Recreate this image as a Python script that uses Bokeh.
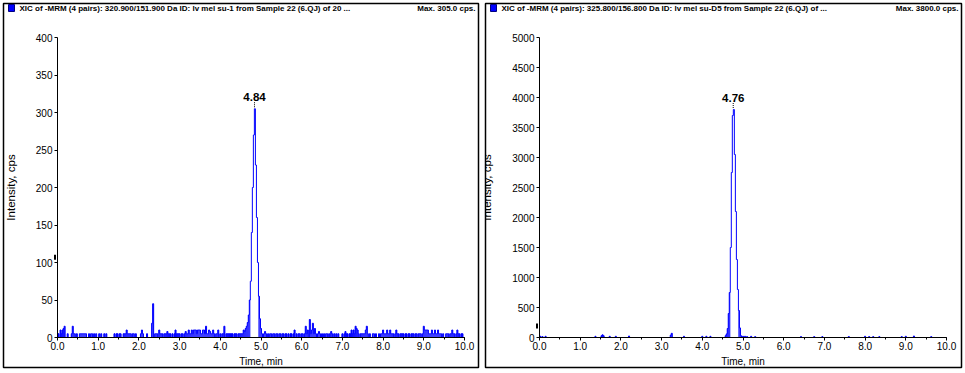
import numpy as np
from bokeh.plotting import figure
from bokeh.layouts import row
from bokeh.models import (Range1d, SingleIntervalTicker, PrintfTickFormatter,
                          Label, ColumnDataSource, LinearAxis)
from bokeh.core.properties import value
from bokeh.embed import file_html
from bokeh.resources import INLINE

# ---------------- data ----------------
step_min = 0.025  # sampling interval (min)

left_intensity = (
    [0,5,0,10,5,10,12,15,0,0, 5,0,0,0,5,15,5,5,0,5, 0,0,5,5,5,5,5,5,5,0, 0,5,0,5,5,0,5,0,5,0]
  + [0,5,0,5,0,0,5,0,5,0, 0,0,0,0,0,0,5,0,5,5, 0,5,5,0,0,5,5,5,10,5, 5,5,5,0,5,5,0,5,0,0]
  + [0,0,5,10,5,0,0,0,5,0, 0,0,0,19,45,0,5,5,5,0, 10,5,5,5,0,5,5,5,8,5, 5,5,0,5,0,5,10,5,5,5]
  + [5,0,5,5,0,5,8,5,5,10, 5,5,10,5,10,10,10,5,10,10, 10,5,5,10,10,5,15,5,5,10, 8,5,5,10,5,0,5,5,10,0]
  + [5,0,5,5,15,0,5,5,5,5, 5,5,5,0,5,5,5,0,5,5, 5,5,5,10,8,12,15,20,30,50, 75,140,200,270,305,230,160,100,55,25]
  + [12,5,0,5,8,5,0,5,0,5, 5,0,5,5,0,5,5,0,5,5, 0,5,5,0,5,5,0,5,0,5, 5,0,5,10,0,5,0,5,5,0]
  + [5,5,0,5,15,5,10,0,24,5, 10,19,5,12,5,0,5,8,5,0, 5,0,5,0,5,5,0,5,0,8, 5,0,5,0,5,0,5,0,0,0]
  + [5,0,5,8,5,5,0,5,5,10, 5,10,5,15,12,10,5,0,5,5, 5,5,5,10,15,5,0,5,0,0, 5,5,0,5,0,0,5,0,5,5]
  + [10,5,5,5,10,5,5,10,5,5, 5,0,5,10,5,5,0,5,5,5, 5,0,5,5,0,5,5,0,5,5, 5,0,5,5,0,5,5,5,0,5]
  + [15,10,10,10,10,5,5,5,10,5, 5,10,5,5,10,5,5,5,0,5, 0,0,5,5,5,0,5,5,10,5, 5,0,5,10,5,5,0,5,5,0]
  + [0]
)

right_intensity = (
    [0,20,0,15,0,0,20,0,0,0, 0,0,0,0,0,0,0,0,0,0, 0,0,0,0,0,0,0,0,0,0, 0,0,0,0,0,0,0,0,0,0]
  + [0,0,0,0,0,0,0,0,0,0, 0,0,0,0,0,20,0,0,0,0, 0,30,45,30,0,0,0,0,0,20, 0,0,0,0,0,20,0,0,0,0]
  + [0,0,0,0,0,0,0,0,25,0, 0,0,0,0,0,0,0,0,0,0, 0,0,0,0,0,0,0,0,0,0, 0,0,0,0,0,0,0,0,0,0]
  + [0,0,0,0,0,0,0,0,0,40, 70,0,0,0,0,0,0,0,0,0, 0,0,20,0,0,0,0,0,0,0, 0,0,0,0,0,0,0,0,0,0]
  + [20,0,0,0,20,0,0,0,20,0, 0,0,0,0,0,0,0,0,0,0, 0,0,0,30,60,150,400,750,1500,2750,
     3700,3800,3050,2100,1300,800,450,160,30,0]
  + [20,0,20,0,15,0,0,0,20,0, 0,0,15,0,0,0,0,0,0,0, 0,0,0,0,0,0,0,0,0,0, 0,0,0,0,0,0,0,0,0,0]
  + [0,0,0,0,0,0,0,0,0,0, 0,0,0,0,0,0,0,15,0,0, 0,0,0,0,0,0,0,0,0,0, 15,0,0,0,0,0,0,0,15,0]
  + [0,0,0,0,0,0,0,0,0,0, 0,0,0,0,0,0,0,0,0,0, 0,0,0,0,15,0,0,0,0,0, 0,0,0,0,0,0,0,0,0,0]
  + [20,0,0,0,15,0,0,0,15,0, 0,0,0,0,15,0,0,0,0,0, 0,0,0,0,0,0,0,0,0,0, 0,0,0,0,0,0,15,0,0,0]
  + [20,0,0,0,0,0,0,0,25,0, 0,0,0,0,0,0,0,0,0,0, 0,0,0,0,0,15,0,0,0,0, 0,0,0,0,0,0,0,0,0,0]
  + [0]
)

titles = [
    "XIC of -MRM (4 pairs): 320.900/151.900 Da ID: lv mel su-1 from Sample 22 (6.QJ) of 20 ...",
    "XIC of -MRM (4 pairs): 325.800/156.800 Da ID: lv mel su-D5 from Sample 22 (6.QJ) of ...",
]
max_labels = ["Max. 305.0 cps.", "Max. 3800.0 cps."]
peak_rt = [4.84, 4.76]
peak_height = [305.0, 3800.0]
peak_labels = ["4.84", "4.76"]
marker_level = [107.0, 192.0]
y_max = [400, 5000]
y_step = [50, 500]
x_max = 10.0
x_step = 1.0
x_axis_label = "Time, min"
y_axis_label = "Intensity, cps"

FONT = "Liberation Sans"
BLUE = "#0000FF"

H = 373
# pixel geometry inside each figure canvas
BOX_L, BOX_T, BOX_B = 3, 3, 367      # panel border
AX_L, AX_R, AX_T, AX_B = 57, 464, 37, 337   # axes extents (x: 0..10, y: 0..ymax)


def make_panel(idx, width, box_r):
    ymax = y_max[idx]
    vals = np.array(left_intensity if idx == 0 else right_intensity, dtype=float)
    t = np.arange(len(vals)) * step_min

    xs = x_max / (AX_R - AX_L)        # data per px
    ys = ymax / (AX_B - AX_T)

    def dx(px):
        return (px - AX_L) * xs

    def dy(py):
        return (AX_B - py) * ys

    p = figure(width=width, height=H, output_backend="svg", toolbar_location=None,
               x_range=Range1d(dx(BOX_L), dx(box_r)), y_range=Range1d(dy(BOX_B), dy(BOX_T)),
               x_axis_location=None, y_axis_location=None,
               min_border_left=BOX_L, min_border_right=width - box_r,
               min_border_top=BOX_T, min_border_bottom=H - BOX_B)
    p.outline_line_color = "black"
    p.outline_line_width = 1.5
    p.xgrid.grid_line_color = None
    p.ygrid.grid_line_color = None
    p.background_fill_color = "white"
    p.border_fill_color = "white"

    # trace: dense low-level samples render as solid spikes, the peak as an outline
    low = vals <= 0.15 * ymax
    p.vbar(x=t[low], top=vals[low], bottom=0, width=step_min,
           fill_color=BLUE, line_color=None)
    p.step(x=t, y=vals, mode="center", line_color=BLUE, line_width=1)

    # axes fixed at the data origin
    xax = LinearAxis(fixed_location=0, bounds=(0, x_max),
                     ticker=SingleIntervalTicker(interval=x_step, num_minor_ticks=2),
                     formatter=PrintfTickFormatter(format="%.1f"))
    yax = LinearAxis(fixed_location=0, bounds=(0, ymax),
                     ticker=SingleIntervalTicker(interval=y_step[idx], num_minor_ticks=0))
    for ax in (xax, yax):
        ax.axis_line_color = "black"
        ax.axis_line_width = 1
        ax.major_tick_line_color = "black"
        ax.minor_tick_line_color = "black"
        ax.major_tick_in = 0
        ax.major_tick_out = 3
        ax.minor_tick_in = 0
        ax.minor_tick_out = 2
        ax.major_label_text_font = FONT
        ax.major_label_text_font_size = "10px"
        ax.major_label_text_color = "black"
        ax.axis_label_text_font = FONT
        ax.axis_label_text_font_style = "normal"
        ax.axis_label_text_color = "black"
    xax.axis_label = x_axis_label
    xax.axis_label_text_font_size = "10px"
    xax.major_label_standoff = 1
    xax.axis_label_standoff = 3
    yax.axis_label = y_axis_label
    yax.axis_label_text_font_size = "11.5px"
    yax.major_label_standoff = 2
    yax.axis_label_standoff = 16
    p.add_layout(xax, "below")
    p.add_layout(yax, "left")

    # header
    p.rect(x=[dx(11)], y=[dy(7.5)], width=6 * xs, height=7 * ys,
           fill_color=BLUE, line_color="#000080", line_width=1)
    p.add_layout(Label(x=dx(19), y=dy(8), text=titles[idx], text_font=FONT,
                       text_font_size="8px", text_font_style="bold",
                       text_baseline="middle", text_align="left", text_color="black"))
    p.add_layout(Label(x=dx(box_r - 3), y=dy(8), text=max_labels[idx], text_font=FONT,
                       text_font_size="8px", text_font_style="bold",
                       text_baseline="middle", text_align="right", text_color="black"))

    # threshold marker near the y axis
    p.segment(x0=[dx(54.5)], y0=[marker_level[idx] - 2.5 * ys],
              x1=[dx(54.5)], y1=[marker_level[idx] + 2.5 * ys],
              line_color="black", line_width=2)

    # peak annotation
    src = ColumnDataSource(dict(x=[peak_rt[idx]], y=[peak_height[idx]], txt=[peak_labels[idx]],
                                y0=[peak_height[idx] + 1.5 * ys],
                                y1=[peak_height[idx] + 6.5 * ys],
                                yt=[peak_height[idx] + 8 * ys]))
    p.segment(x0="x", y0="y0", x1="x", y1="y1", source=src, line_color="black",
              line_width=1, line_dash="1 1")
    p.text(x="x", y="yt", text="txt", source=src, text_font=value(FONT),
           text_font_size="11.5px", text_font_style="bold", text_align="center",
           text_baseline="bottom", text_color="black")
    return p


p1 = make_panel(0, 482, 478)
p2 = make_panel(1, 483, 479)
layout = row(p1, p2, spacing=0)

open("out.html", "w").write(file_html(layout, INLINE))
